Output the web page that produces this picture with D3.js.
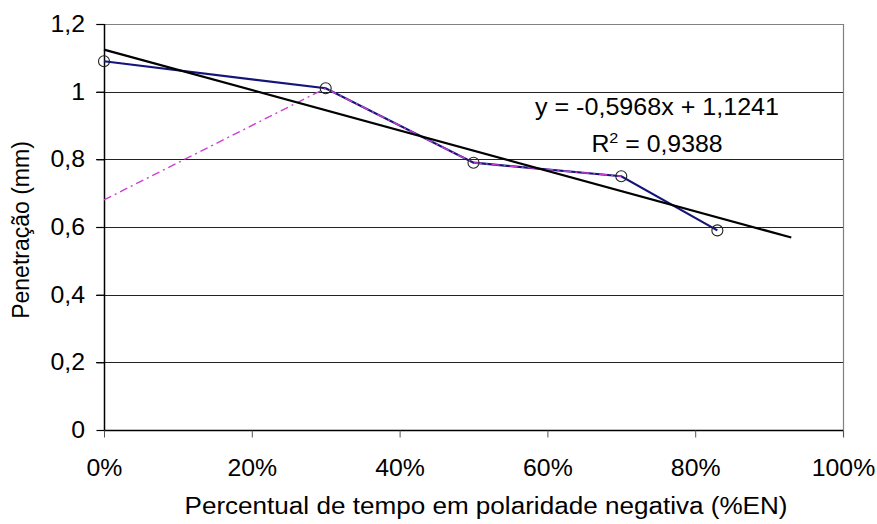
<!DOCTYPE html>
<html>
<head>
<meta charset="utf-8">
<script src="https://cdn.jsdelivr.net/npm/d3@7"></script>
<style>
  html, body { margin: 0; padding: 0; background: #fff; }
  svg { display: block; font-family: "Liberation Sans", Arial, sans-serif; }
</style>
</head>
<body>
<svg id="chart" width="877" height="524"></svg>
<script>
// ---- data ----
const xTicks = [0, 0.2, 0.4, 0.6, 0.8, 1.0];
const xTickLabels = ["0%", "20%", "40%", "60%", "80%", "100%"];
const yTicks = [0, 0.2, 0.4, 0.6, 0.8, 1.0, 1.2];
const yTickLabels = ["0", "0,2", "0,4", "0,6", "0,8", "1", "1,2"];

const seriesX = [0, 0.30, 0.50, 0.70, 0.83];
const seriesY = [1.09, 1.01, 0.79, 0.75, 0.59];

const dashX = [0, 0.30, 0.50, 0.70];
const dashY = [0.68, 1.01, 0.79, 0.75];

const trendX = [0, 0.93];
const trendY = [1.1241, 0.569];

const equationText = "y = -0,5968x + 1,1241";
const r2Label = "R";
const r2Value = " = 0,9388";
const xTitle = "Percentual de tempo em polaridade negativa (%EN)";
const yTitle = "Penetração (mm)";

(function () {
// ---- layout ----
const svg = d3.select("#chart");
const pL = 104, pR = 843, pT = 24, pB = 430;
const x = d3.scaleLinear().domain([0, 1]).range([pL, pR]);
const y = d3.scaleLinear().domain([0, 1.2]).range([pB, pT]);
const fontSize = 23;
const sx = 1.08;

// gridlines (y)
svg.append("g")
  .selectAll("line")
  .data(yTicks.filter(d => d > 0 && d < 1.2))
  .join("line")
  .attr("x1", pL - 8).attr("x2", pR)
  .attr("y1", d => Math.round(y(d)) + 0.5).attr("y2", d => Math.round(y(d)) + 0.5)
  .attr("stroke", "#222")
  .attr("stroke-width", 1.2);

// plot-area border (top + right, gray)
svg.append("path")
  .attr("d", `M${pL - 8},${pT + 0.5}H${pR + 0.5}V${pB + 7}`)
  .attr("fill", "none").attr("stroke", "#808080").attr("stroke-width", 1.2);

// y axis
const yAxis = d3.axisLeft(y).tickValues(yTicks)
  .tickFormat((d, i) => yTickLabels[i]).tickSize(8).tickPadding(11);
const gy = svg.append("g").attr("transform", `translate(${pL + 0.5},0)`).call(yAxis);
gy.select(".domain").attr("stroke", "#000").attr("stroke-width", 1.5).attr("d", `M0,${pT}V${pB}`);
gy.selectAll(".tick line").attr("stroke", "#000").attr("stroke-width", 1.2);
gy.selectAll(".tick text").attr("font-size", fontSize).attr("fill", "#000")
  .attr("font-family", "Liberation Sans, Arial, sans-serif")
  .attr("x", -19.5 / sx)
  .attr("transform", `scale(${sx},1)`);

// x axis
const xAxis = d3.axisBottom(x).tickValues(xTicks)
  .tickFormat((d, i) => xTickLabels[i]).tickSize(7).tickPadding(22);
const gx = svg.append("g").attr("transform", `translate(0,${pB + 0.5})`).call(xAxis);
gx.select(".domain").attr("stroke", "#000").attr("stroke-width", 1.5).attr("d", `M${pL},0H${pR}`);
gx.selectAll(".tick line").attr("stroke", "#555").attr("stroke-width", 1);
gx.selectAll(".tick text").attr("font-size", fontSize).attr("fill", "#000")
  .attr("font-family", "Liberation Sans, Arial, sans-serif")
  .attr("transform", `scale(${sx},1)`);

// series line (navy)
const line = d3.line().x(d => x(d[0])).y(d => y(d[1]));
svg.append("path")
  .datum(seriesX.map((v, i) => [v, seriesY[i]]))
  .attr("d", line)
  .attr("fill", "none").attr("stroke", "#14147a").attr("stroke-width", 2.2);

// dash-dot magenta series
svg.append("path")
  .datum(dashX.map((v, i) => [v, dashY[i]]))
  .attr("d", line)
  .attr("fill", "none").attr("stroke", "#cc3fd6").attr("stroke-width", 1.4)
  .attr("stroke-dasharray", "8,4,2,4");

// trendline
svg.append("path")
  .datum(trendX.map((v, i) => [v, trendY[i]]))
  .attr("d", line)
  .attr("fill", "none").attr("stroke", "#000").attr("stroke-width", 2.2);

// markers
svg.append("g")
  .selectAll("circle")
  .data(seriesX.map((v, i) => [v, seriesY[i]]))
  .join("circle")
  .attr("cx", d => x(d[0])).attr("cy", d => y(d[1]))
  .attr("r", 5.5)
  .attr("fill", "none").attr("stroke", "#222").attr("stroke-width", 1.1);

// equation
const eqX = 657;
svg.append("text")
  .attr("x", eqX).attr("y", 115)
  .attr("text-anchor", "middle").attr("font-size", fontSize).attr("fill", "#000")
  .attr("textLength", 244).attr("lengthAdjust", "spacingAndGlyphs")
  .text(equationText);
const r2 = svg.append("g").attr("transform", `translate(${eqX},152) scale(${sx},1)`)
  .append("text")
  .attr("x", 0).attr("y", 0)
  .attr("text-anchor", "middle").attr("font-size", fontSize).attr("fill", "#000");
r2.append("tspan").text(r2Label);
r2.append("tspan").attr("font-size", 15).attr("dy", -9).text("2");
r2.append("tspan").attr("dy", 9).text(r2Value);

// axis titles
svg.append("text")
  .attr("x", 486).attr("y", 514)
  .attr("text-anchor", "middle").attr("font-size", fontSize).attr("fill", "#000")
  .attr("textLength", 603).attr("lengthAdjust", "spacingAndGlyphs")
  .text(xTitle);
svg.append("text")
  .attr("transform", `translate(29,230) rotate(-90)`)
  .attr("text-anchor", "middle").attr("font-size", fontSize).attr("fill", "#000")
  .text(yTitle);
})();
</script>
</body>
</html>
